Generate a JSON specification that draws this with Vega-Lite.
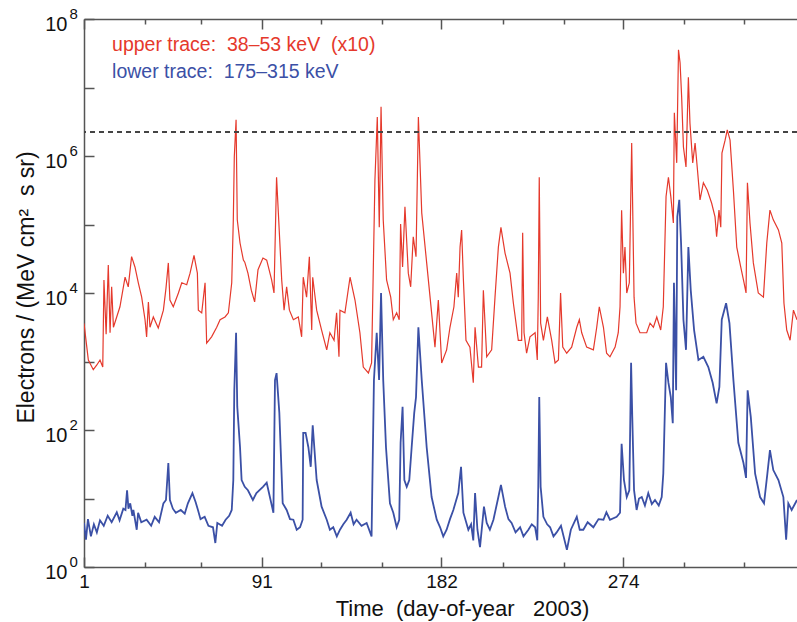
{
"$schema": "https://vega.github.io/schema/vega-lite/v6.json",
"width": 713, "height": 548,
"autosize": {"type": "none"},
"padding": {"left": 84, "top": 19, "right": 0, "bottom": 55},
"background": "white",
"config": {"view": {"stroke": null}, "font": "Liberation Sans",
  "axis": {"domainColor": "#555", "domainWidth": 1.5, "tickColor": "#555", "tickWidth": 1.5, "grid": false, "labelColor": "#111", "titleColor": "#111", "titleFontWeight": "normal", "labelFont": "Liberation Sans", "titleFont": "Liberation Sans"}},
"data": {"values": [
{"s":"u","d":1,"v":3600},{"s":"u","d":3.2,"v":1050},{"s":"u","d":5.7,"v":760},{"s":"u","d":7.5,"v":890},{"s":"u","d":9.1,"v":1050},{"s":"u","d":10.5,"v":830},{"s":"u","d":11.1,"v":15500},{"s":"u","d":12.2,"v":2500},{"s":"u","d":13.3,"v":25700},{"s":"u","d":14.2,"v":2630},{"s":"u","d":15.0,"v":12300},{"s":"u","d":15.9,"v":3160},{"s":"u","d":19.2,"v":6300},{"s":"u","d":21.8,"v":17000},{"s":"u","d":23.4,"v":12300},{"s":"u","d":25.1,"v":33900},{"s":"u","d":26.8,"v":24000},{"s":"u","d":28.5,"v":14100},{"s":"u","d":30.2,"v":8700},{"s":"u","d":31.9,"v":4070},{"s":"u","d":32.7,"v":2290},{"s":"u","d":33.6,"v":7400},{"s":"u","d":34.4,"v":3160},{"s":"u","d":36.1,"v":4470},{"s":"u","d":38.6,"v":3090},{"s":"u","d":41.2,"v":5620},{"s":"u","d":42.5,"v":11700},{"s":"u","d":43.7,"v":27500},{"s":"u","d":44.5,"v":7900},{"s":"u","d":46.2,"v":6300},{"s":"u","d":48.8,"v":10000},{"s":"u","d":50.5,"v":14100},{"s":"u","d":53.0,"v":13200},{"s":"u","d":54.7,"v":19500},{"s":"u","d":56.7,"v":35500},{"s":"u","d":58.4,"v":19500},{"s":"u","d":58.9,"v":5620},{"s":"u","d":60.6,"v":5130},{"s":"u","d":62.3,"v":14100},{"s":"u","d":63.1,"v":1860},{"s":"u","d":65.6,"v":2290},{"s":"u","d":68.2,"v":3160},{"s":"u","d":69.9,"v":4070},{"s":"u","d":72.4,"v":4470},{"s":"u","d":74.1,"v":5130},{"s":"u","d":75.8,"v":14100},{"s":"u","d":76.6,"v":117000},{"s":"u","d":77.1,"v":977000},{"s":"u","d":78.0,"v":3390000},{"s":"u","d":78.6,"v":117000},{"s":"u","d":80.0,"v":53700},{"s":"u","d":81.7,"v":30200},{"s":"u","d":82.4,"v":28200},{"s":"u","d":84.0,"v":19500},{"s":"u","d":85.7,"v":11000},{"s":"u","d":87.4,"v":7400},{"s":"u","d":89.1,"v":21900},{"s":"u","d":91.6,"v":32400},{"s":"u","d":93.5,"v":30200},{"s":"u","d":96.0,"v":15500},{"s":"u","d":97.2,"v":10000},{"s":"u","d":98.5,"v":490000},{"s":"u","d":99.4,"v":148000},{"s":"u","d":101.1,"v":15500},{"s":"u","d":102.3,"v":5620},{"s":"u","d":103.6,"v":12300},{"s":"u","d":105.0,"v":5620},{"s":"u","d":107.0,"v":4070},{"s":"u","d":109.5,"v":4470},{"s":"u","d":111.2,"v":2290},{"s":"u","d":112.0,"v":17000},{"s":"u","d":113.7,"v":8700},{"s":"u","d":115.1,"v":33900},{"s":"u","d":116.3,"v":2880},{"s":"u","d":116.8,"v":17000},{"s":"u","d":118.8,"v":5620},{"s":"u","d":121.3,"v":2880},{"s":"u","d":123.9,"v":1480},{"s":"u","d":125.5,"v":2630},{"s":"u","d":127.6,"v":2040},{"s":"u","d":128.9,"v":5130},{"s":"u","d":130.1,"v":1170},{"s":"u","d":130.6,"v":5620},{"s":"u","d":133.1,"v":5130},{"s":"u","d":135.7,"v":17000},{"s":"u","d":138.2,"v":7900},{"s":"u","d":140.7,"v":2630},{"s":"u","d":142.4,"v":830},{"s":"u","d":145.0,"v":680},{"s":"u","d":146.6,"v":950},{"s":"u","d":148.3,"v":447000},{"s":"u","d":149.5,"v":3720000},{"s":"u","d":150.5,"v":91000},{"s":"u","d":151.4,"v":5250000},{"s":"u","d":152.5,"v":117000},{"s":"u","d":154.2,"v":15500},{"s":"u","d":156.3,"v":8700},{"s":"u","d":157.6,"v":4070},{"s":"u","d":159.3,"v":5130},{"s":"u","d":160.6,"v":4070},{"s":"u","d":161.3,"v":102000},{"s":"u","d":162.3,"v":24000},{"s":"u","d":163.5,"v":182000},{"s":"u","d":165.2,"v":19500},{"s":"u","d":166.4,"v":12300},{"s":"u","d":167.7,"v":66100},{"s":"u","d":169.1,"v":33900},{"s":"u","d":170.3,"v":3720000},{"s":"u","d":172.0,"v":148000},{"s":"u","d":174.5,"v":27500},{"s":"u","d":177.0,"v":5130},{"s":"u","d":178.7,"v":1620},{"s":"u","d":180.4,"v":7900},{"s":"u","d":182.1,"v":950},{"s":"u","d":184.6,"v":1480},{"s":"u","d":186.3,"v":3160},{"s":"u","d":188.3,"v":6300},{"s":"u","d":189.7,"v":19500},{"s":"u","d":190.5,"v":8700},{"s":"u","d":191.4,"v":46800},{"s":"u","d":192.2,"v":83200},{"s":"u","d":193.1,"v":15500},{"s":"u","d":194.4,"v":2040},{"s":"u","d":196.4,"v":1620},{"s":"u","d":198.1,"v":490},{"s":"u","d":199.0,"v":3160},{"s":"u","d":200.7,"v":830},{"s":"u","d":202.3,"v":830},{"s":"u","d":203.2,"v":11000},{"s":"u","d":204.9,"v":1170},{"s":"u","d":207.4,"v":1480},{"s":"u","d":209.1,"v":8700},{"s":"u","d":210.8,"v":46800},{"s":"u","d":212.1,"v":91000},{"s":"u","d":214.2,"v":38000},{"s":"u","d":216.7,"v":19500},{"s":"u","d":218.4,"v":7080},{"s":"u","d":220.9,"v":2040},{"s":"u","d":222.6,"v":2040},{"s":"u","d":223.1,"v":75900},{"s":"u","d":223.8,"v":2630},{"s":"u","d":225.1,"v":1320},{"s":"u","d":226.8,"v":2290},{"s":"u","d":229.4,"v":2630},{"s":"u","d":230.5,"v":1050},{"s":"u","d":231.0,"v":8700},{"s":"u","d":231.5,"v":490000},{"s":"u","d":232.2,"v":3630},{"s":"u","d":233.6,"v":2040},{"s":"u","d":235.6,"v":4470},{"s":"u","d":237.8,"v":2040},{"s":"u","d":239.5,"v":950},{"s":"u","d":241.2,"v":1050},{"s":"u","d":242.3,"v":10000},{"s":"u","d":243.4,"v":1620},{"s":"u","d":245.4,"v":1320},{"s":"u","d":247.9,"v":1620},{"s":"u","d":250.5,"v":3160},{"s":"u","d":251.8,"v":4070},{"s":"u","d":253.0,"v":2630},{"s":"u","d":255.5,"v":1620},{"s":"u","d":258.9,"v":1480},{"s":"u","d":260.6,"v":3160},{"s":"u","d":261.9,"v":6300},{"s":"u","d":264.0,"v":3160},{"s":"u","d":265.6,"v":1320},{"s":"u","d":267.3,"v":1170},{"s":"u","d":269.9,"v":1620},{"s":"u","d":271.5,"v":2630},{"s":"u","d":272.4,"v":6300},{"s":"u","d":273.2,"v":162000},{"s":"u","d":274.1,"v":19500},{"s":"u","d":274.9,"v":46800},{"s":"u","d":275.8,"v":10000},{"s":"u","d":277.1,"v":14100},{"s":"u","d":278.3,"v":1550000},{"s":"u","d":278.8,"v":182000},{"s":"u","d":279.5,"v":8700},{"s":"u","d":280.5,"v":3630},{"s":"u","d":282.5,"v":2630},{"s":"u","d":285.9,"v":2630},{"s":"u","d":287.6,"v":3630},{"s":"u","d":289.3,"v":3160},{"s":"u","d":291.0,"v":4470},{"s":"u","d":293.0,"v":2880},{"s":"u","d":294.3,"v":6300},{"s":"u","d":295.7,"v":257000},{"s":"u","d":296.9,"v":490000},{"s":"u","d":298.1,"v":257000},{"s":"u","d":299.4,"v":105000},{"s":"u","d":299.9,"v":4270000},{"s":"u","d":301.1,"v":794000},{"s":"u","d":302.0,"v":35500000},{"s":"u","d":302.8,"v":22900000},{"s":"u","d":303.6,"v":7240000},{"s":"u","d":304.5,"v":1350000},{"s":"u","d":305.8,"v":692000},{"s":"u","d":307.0,"v":14100000},{"s":"u","d":307.8,"v":3020000},{"s":"u","d":309.2,"v":794000},{"s":"u","d":310.4,"v":1550000},{"s":"u","d":311.6,"v":631000},{"s":"u","d":312.9,"v":229000},{"s":"u","d":314.6,"v":407000},{"s":"u","d":316.6,"v":316000},{"s":"u","d":318.8,"v":204000},{"s":"u","d":320.5,"v":129000},{"s":"u","d":321.3,"v":66100},{"s":"u","d":322.5,"v":162000},{"s":"u","d":323.4,"v":91200},{"s":"u","d":324.0,"v":1100000},{"s":"u","d":325.6,"v":1700000},{"s":"u","d":326.7,"v":2400000},{"s":"u","d":328.1,"v":1700000},{"s":"u","d":329.8,"v":316000},{"s":"u","d":331.5,"v":46800},{"s":"u","d":333.5,"v":24000},{"s":"u","d":335.2,"v":14100},{"s":"u","d":336.2,"v":10000},{"s":"u","d":336.9,"v":407000},{"s":"u","d":338.2,"v":105000},{"s":"u","d":339.9,"v":27500},{"s":"u","d":342.4,"v":10000},{"s":"u","d":345.0,"v":8700},{"s":"u","d":346.7,"v":53700},{"s":"u","d":348.3,"v":162000},{"s":"u","d":350.0,"v":117000},{"s":"u","d":352.6,"v":83200},{"s":"u","d":354.3,"v":53700},{"s":"u","d":355.4,"v":7080},{"s":"u","d":356.8,"v":2880},{"s":"u","d":358.5,"v":2040},{"s":"u","d":360.2,"v":5620},{"s":"u","d":362.0,"v":4070},
{"s":"l","d":1,"v":4.4},{"s":"l","d":2.0,"v":2.5},{"s":"l","d":3.0,"v":5.0},{"s":"l","d":4.5,"v":2.8},{"s":"l","d":6.0,"v":4.2},{"s":"l","d":7.5,"v":3.2},{"s":"l","d":9.1,"v":4.8},{"s":"l","d":11.0,"v":4.0},{"s":"l","d":13.0,"v":5.6},{"s":"l","d":15.0,"v":4.5},{"s":"l","d":17.6,"v":6.3},{"s":"l","d":19.0,"v":4.8},{"s":"l","d":20.9,"v":7.1},{"s":"l","d":22.0,"v":6.8},{"s":"l","d":22.8,"v":13.2},{"s":"l","d":23.5,"v":7.1},{"s":"l","d":24.4,"v":8.5},{"s":"l","d":25.5,"v":5.6},{"s":"l","d":26.0,"v":6.8},{"s":"l","d":27.7,"v":3.5},{"s":"l","d":28.4,"v":6.2},{"s":"l","d":30.0,"v":4.5},{"s":"l","d":32.7,"v":4.9},{"s":"l","d":35.0,"v":4.0},{"s":"l","d":36.8,"v":5.4},{"s":"l","d":39.0,"v":4.5},{"s":"l","d":41.2,"v":8.5},{"s":"l","d":42.5,"v":9.5},{"s":"l","d":43.7,"v":33},{"s":"l","d":44.5,"v":9.5},{"s":"l","d":46.0,"v":7.1},{"s":"l","d":47.5,"v":6.2},{"s":"l","d":50.0,"v":6.8},{"s":"l","d":52.0,"v":6.0},{"s":"l","d":53.6,"v":8.5},{"s":"l","d":55.9,"v":12},{"s":"l","d":57.5,"v":8.9},{"s":"l","d":58.7,"v":6.8},{"s":"l","d":60.0,"v":5.0},{"s":"l","d":62.1,"v":5.4},{"s":"l","d":64.0,"v":4.0},{"s":"l","d":66.3,"v":3.8},{"s":"l","d":67.5,"v":2.24},{"s":"l","d":68.5,"v":4.4},{"s":"l","d":70.9,"v":4.0},{"s":"l","d":72.7,"v":4.9},{"s":"l","d":74.5,"v":5.6},{"s":"l","d":75.8,"v":6.8},{"s":"l","d":76.6,"v":18.6},{"s":"l","d":77.1,"v":380},{"s":"l","d":78.0,"v":2630},{"s":"l","d":78.6,"v":219},{"s":"l","d":80.0,"v":56},{"s":"l","d":80.8,"v":18.6},{"s":"l","d":82.4,"v":14.8},{"s":"l","d":84.0,"v":13.2},{"s":"l","d":86.5,"v":9.5},{"s":"l","d":88.3,"v":12},{"s":"l","d":91.6,"v":14.8},{"s":"l","d":93.5,"v":17},{"s":"l","d":96.9,"v":6.2},{"s":"l","d":97.7,"v":537},{"s":"l","d":98.5,"v":676},{"s":"l","d":99.9,"v":178},{"s":"l","d":101.6,"v":8.5},{"s":"l","d":103.6,"v":6.8},{"s":"l","d":105.3,"v":5.0},{"s":"l","d":107.0,"v":4.9},{"s":"l","d":108.7,"v":3.5},{"s":"l","d":110.4,"v":3.8},{"s":"l","d":111.7,"v":4.9},{"s":"l","d":112.0,"v":91},{"s":"l","d":113.2,"v":91},{"s":"l","d":114.6,"v":56},{"s":"l","d":115.8,"v":29},{"s":"l","d":116.8,"v":117},{"s":"l","d":118.8,"v":18.6},{"s":"l","d":121.3,"v":7.6},{"s":"l","d":123.9,"v":4.9},{"s":"l","d":125.5,"v":3.5},{"s":"l","d":127.2,"v":3.8},{"s":"l","d":129.0,"v":2.8},{"s":"l","d":130.6,"v":3.5},{"s":"l","d":132.3,"v":4.2},{"s":"l","d":134.0,"v":4.9},{"s":"l","d":136.0,"v":6.2},{"s":"l","d":137.5,"v":4.2},{"s":"l","d":139.0,"v":4.9},{"s":"l","d":141.5,"v":4.0},{"s":"l","d":144.1,"v":4.4},{"s":"l","d":146.6,"v":2.8},{"s":"l","d":147.8,"v":537},{"s":"l","d":149.2,"v":2630},{"s":"l","d":150.4,"v":537},{"s":"l","d":151.4,"v":10000},{"s":"l","d":152.5,"v":537},{"s":"l","d":153.9,"v":56},{"s":"l","d":155.9,"v":8.5},{"s":"l","d":157.6,"v":6.2},{"s":"l","d":159.3,"v":3.8},{"s":"l","d":160.6,"v":4.9},{"s":"l","d":161.3,"v":65},{"s":"l","d":162.3,"v":219},{"s":"l","d":163.2,"v":18.6},{"s":"l","d":164.4,"v":14.8},{"s":"l","d":165.7,"v":18.6},{"s":"l","d":166.9,"v":56},{"s":"l","d":168.2,"v":178},{"s":"l","d":169.1,"v":302},{"s":"l","d":170.3,"v":3160},{"s":"l","d":172.0,"v":537},{"s":"l","d":174.5,"v":56},{"s":"l","d":177.0,"v":10.5},{"s":"l","d":179.6,"v":4.9},{"s":"l","d":181.3,"v":3.8},{"s":"l","d":182.9,"v":2.8},{"s":"l","d":184.6,"v":3.5},{"s":"l","d":186.3,"v":5.0},{"s":"l","d":188.0,"v":6.8},{"s":"l","d":190.5,"v":12},{"s":"l","d":191.9,"v":29},{"s":"l","d":193.1,"v":6.2},{"s":"l","d":195.6,"v":3.5},{"s":"l","d":197.0,"v":4.2},{"s":"l","d":198.1,"v":2.45},{"s":"l","d":199.0,"v":12},{"s":"l","d":200.2,"v":3.5},{"s":"l","d":201.5,"v":1.95},{"s":"l","d":203.5,"v":7.6},{"s":"l","d":204.9,"v":4.4},{"s":"l","d":206.5,"v":3.5},{"s":"l","d":208.3,"v":4.9},{"s":"l","d":210.8,"v":10.5},{"s":"l","d":212.1,"v":15.8},{"s":"l","d":214.2,"v":7.6},{"s":"l","d":215.9,"v":5.0},{"s":"l","d":217.5,"v":4.4},{"s":"l","d":219.5,"v":3.2},{"s":"l","d":221.8,"v":3.8},{"s":"l","d":223.5,"v":2.8},{"s":"l","d":226.0,"v":3.5},{"s":"l","d":227.7,"v":4.2},{"s":"l","d":229.4,"v":3.8},{"s":"l","d":230.5,"v":2.45},{"s":"l","d":231.0,"v":14.8},{"s":"l","d":231.5,"v":302},{"s":"l","d":232.2,"v":14.8},{"s":"l","d":233.6,"v":5.4},{"s":"l","d":235.5,"v":4.2},{"s":"l","d":237.0,"v":3.8},{"s":"l","d":238.7,"v":2.8},{"s":"l","d":240.3,"v":3.2},{"s":"l","d":242.5,"v":4.0},{"s":"l","d":245.5,"v":1.78},{"s":"l","d":247.5,"v":3.5},{"s":"l","d":250.5,"v":5.4},{"s":"l","d":252.0,"v":3.5},{"s":"l","d":253.8,"v":3.5},{"s":"l","d":256.0,"v":4.5},{"s":"l","d":258.9,"v":3.8},{"s":"l","d":261.5,"v":5.0},{"s":"l","d":264.0,"v":4.9},{"s":"l","d":265.5,"v":6.3},{"s":"l","d":267.3,"v":4.9},{"s":"l","d":270.7,"v":5.4},{"s":"l","d":272.4,"v":6.2},{"s":"l","d":273.2,"v":63},{"s":"l","d":274.4,"v":18.6},{"s":"l","d":275.8,"v":10.5},{"s":"l","d":277.1,"v":13.2},{"s":"l","d":278.0,"v":955},{"s":"l","d":278.6,"v":155},{"s":"l","d":279.5,"v":13.2},{"s":"l","d":280.8,"v":6.8},{"s":"l","d":282.0,"v":10},{"s":"l","d":283.4,"v":10.5},{"s":"l","d":285.0,"v":7.9},{"s":"l","d":286.7,"v":12},{"s":"l","d":288.5,"v":8.3},{"s":"l","d":290.1,"v":9.5},{"s":"l","d":292.0,"v":7.9},{"s":"l","d":293.5,"v":10.5},{"s":"l","d":294.3,"v":23},{"s":"l","d":295.7,"v":955},{"s":"l","d":296.9,"v":490},{"s":"l","d":298.1,"v":302},{"s":"l","d":299.1,"v":126},{"s":"l","d":299.7,"v":14100},{"s":"l","d":300.8,"v":380},{"s":"l","d":301.4,"v":129000},{"s":"l","d":302.4,"v":229000},{"s":"l","d":303.3,"v":53700},{"s":"l","d":304.5,"v":4070},{"s":"l","d":305.8,"v":1480},{"s":"l","d":307.0,"v":46800},{"s":"l","d":308.2,"v":11000},{"s":"l","d":309.9,"v":2880},{"s":"l","d":312.1,"v":1050},{"s":"l","d":314.6,"v":1170},{"s":"l","d":317.1,"v":830},{"s":"l","d":319.3,"v":490},{"s":"l","d":321.3,"v":245},{"s":"l","d":322.7,"v":427},{"s":"l","d":323.9,"v":4070},{"s":"l","d":326.1,"v":7080},{"s":"l","d":327.8,"v":3630},{"s":"l","d":329.8,"v":537},{"s":"l","d":332.3,"v":65},{"s":"l","d":334.9,"v":33},{"s":"l","d":336.2,"v":20},{"s":"l","d":337.0,"v":380},{"s":"l","d":338.6,"v":155},{"s":"l","d":340.8,"v":23},{"s":"l","d":343.3,"v":10.5},{"s":"l","d":345.3,"v":8.5},{"s":"l","d":347.0,"v":23},{"s":"l","d":348.3,"v":51},{"s":"l","d":350.0,"v":26},{"s":"l","d":352.6,"v":18.6},{"s":"l","d":355.1,"v":10.5},{"s":"l","d":356.5,"v":2.5},{"s":"l","d":357.6,"v":8.5},{"s":"l","d":359.3,"v":6.8},{"s":"l","d":362,"v":9.5}
]},
"layer": [
  {"transform": [{"filter": "datum.s == 'u'"}],
   "mark": {"type": "line", "strokeWidth": 1.2, "color": "#e5392c", "clip": true},
   "encoding": {
     "x": {"field": "d", "type": "quantitative", "scale": {"domain": [1, 362], "nice": false, "zero": false},
       "axis": {"orient": "bottom", "values": [1, 91, 182, 274], "tickSize": -10, "labelFontSize": 19, "labelPadding": 15, "labelFlush": false, "title": "Time\u00a0\u00a0(day-of-year\u00a0\u00a0\u00a02003)", "titleFontSize": 22, "titleX": 378, "titleY": 48, "titleBaseline": "alphabetic"}},
     "y": {"field": "v", "type": "quantitative", "scale": {"type": "log", "domain": [1, 100000000], "nice": false},
       "axis": {"orient": "left", "values": [1, 10, 100, 1000, 10000, 100000, 1000000, 10000000, 100000000], "tickSize": -10, "labelFontSize": 20, "labelPadding": 27, "labelOffset": 5, "labelFlush": false, "labelBaseline": "middle", "labelExpr": "datum.value == 1 || datum.value == 100 || datum.value == 10000 || datum.value == 1000000 || datum.value == 100000000 ? '10' : ''", "title": "Electrons / (MeV cm\u00b2\u00a0\u00a0s sr)", "titleFontSize": 23, "titleX": -51, "titleY": 268, "titleBaseline": "alphabetic"}}
   }},
  {"transform": [{"filter": "datum.s == 'l'"}],
   "mark": {"type": "line", "strokeWidth": 1.8, "color": "#3b50a6", "clip": true},
   "encoding": {
     "x": {"field": "d", "type": "quantitative", "axis": {"orient": "top", "values": [32, 60, 121, 152, 213, 244, 305, 335], "tickSize": -5, "labels": false, "domain": false, "title": null}},
     "y": {"field": "v", "type": "quantitative", "axis": null}
   }},
  {"mark": {"type": "rule", "color": "#444", "strokeWidth": 1, "strokeDash": [5, 4]},
   "encoding": {"y": {"datum": 2240000, "type": "quantitative",
     "axis": {"orient": "left", "values": [1, 100, 10000, 1000000, 100000000], "ticks": false, "domain": false, "labelFontSize": 15, "labelPadding": 15, "labelOffset": -6, "labelAlign": "left", "labelBaseline": "middle", "labelFlush": false, "labelExpr": "datum.value == 1 ? '0' : datum.value == 100 ? '2' : datum.value == 10000 ? '4' : datum.value == 1000000 ? '6' : '8'", "title": null}}}},
  {"data": {"values": [{"t": "upper trace:\u00a0\u00a038\u201353 keV\u00a0\u00a0(x10)", "d": 15.2, "v": 41700000}]},
   "mark": {"type": "text", "align": "left", "baseline": "middle", "fontSize": 19.5, "color": "#e5392c"},
   "encoding": {"text": {"field": "t"},
     "x": {"field": "d", "type": "quantitative", "axis": {"orient": "top", "values": [1, 91, 182, 274], "tickSize": -10, "labels": false, "title": null}},
     "y": {"field": "v", "type": "quantitative", "axis": null}}},
  {"data": {"values": [{"t": "lower trace:\u00a0\u00a0175\u2013315 keV", "d": 15.2, "v": 16800000}]},
   "mark": {"type": "text", "align": "left", "baseline": "middle", "fontSize": 19.5, "color": "#3b50a6"},
   "encoding": {"text": {"field": "t"},
     "x": {"field": "d", "type": "quantitative", "axis": {"orient": "bottom", "values": [32, 60, 121, 152, 213, 244, 305, 335], "tickSize": -5, "labels": false, "domain": false, "title": null}},
     "y": {"field": "v", "type": "quantitative", "axis": null}}}
],
"resolve": {"axis": {"x": "independent", "y": "independent"}}
}
